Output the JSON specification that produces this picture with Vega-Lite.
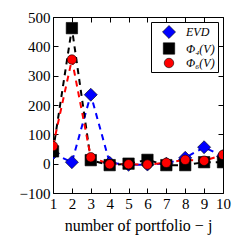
{
  "$schema": "https://vega.github.io/schema/vega-lite/v6.json",
  "width": 170,
  "height": 176,
  "autosize": {"type": "none"},
  "padding": {"left": 53, "top": 17, "right": 19, "bottom": 54},
  "background": "white",
  "config": {
    "view": {"stroke": "black", "strokeWidth": 1},
    "font": "Liberation Serif",
    "axis": {
      "labelFont": "Liberation Serif",
      "titleFont": "Liberation Serif",
      "labelFontSize": 15,
      "titleFontSize": 16,
      "titleFontWeight": "normal",
      "labelColor": "black",
      "titleColor": "black",
      "grid": false,
      "domain": false,
      "tickColor": "black",
      "tickSize": -5,
      "tickWidth": 1
    }
  },
  "data": {
    "values": [
      {"j": 1, "s": "EVD", "v": 35},
      {"j": 2, "s": "EVD", "v": 5},
      {"j": 3, "s": "EVD", "v": 235},
      {"j": 4, "s": "EVD", "v": 3},
      {"j": 5, "s": "EVD", "v": -4},
      {"j": 6, "s": "EVD", "v": -3},
      {"j": 7, "s": "EVD", "v": 0},
      {"j": 8, "s": "EVD", "v": 20},
      {"j": 9, "s": "EVD", "v": 56},
      {"j": 10, "s": "EVD", "v": 25},
      {"j": 1, "s": "Φ₄(V)", "v": 42},
      {"j": 2, "s": "Φ₄(V)", "v": 462},
      {"j": 3, "s": "Φ₄(V)", "v": 12},
      {"j": 4, "s": "Φ₄(V)", "v": -5},
      {"j": 5, "s": "Φ₄(V)", "v": 0},
      {"j": 6, "s": "Φ₄(V)", "v": 13},
      {"j": 7, "s": "Φ₄(V)", "v": -5},
      {"j": 8, "s": "Φ₄(V)", "v": -5},
      {"j": 9, "s": "Φ₄(V)", "v": 5},
      {"j": 10, "s": "Φ₄(V)", "v": 5},
      {"j": 1, "s": "Φ₆(V)", "v": 60},
      {"j": 2, "s": "Φ₆(V)", "v": 355},
      {"j": 3, "s": "Φ₆(V)", "v": 22},
      {"j": 4, "s": "Φ₆(V)", "v": -2},
      {"j": 5, "s": "Φ₆(V)", "v": -2},
      {"j": 6, "s": "Φ₆(V)", "v": -3},
      {"j": 7, "s": "Φ₆(V)", "v": 3},
      {"j": 8, "s": "Φ₆(V)", "v": 13},
      {"j": 9, "s": "Φ₆(V)", "v": 10},
      {"j": 10, "s": "Φ₆(V)", "v": 30}
    ]
  },
  "layer": [
    {
      "encoding": {
        "x": {
          "field": "j",
          "type": "quantitative",
          "scale": {"domain": [1, 10], "nice": false, "zero": false},
          "axis": {"values": [1,2,3,4,5,6,7,8,9,10], "title": "number of portfolio − j", "labelPadding": 8, "titlePadding": 6, "labelFlush": false}
        },
        "y": {
          "field": "v",
          "type": "quantitative",
          "scale": {"domain": [-100, 500], "nice": false},
          "axis": {"values": [-100, 0, 100, 200, 300, 400, 500], "title": null, "labelPadding": 8, "labelFlush": false}
        }
      },
      "layer": [
        {
          "transform": [{"filter": "datum.s === 'EVD'"}],
          "mark": {"type": "line", "strokeDash": [6, 5], "strokeWidth": 2, "clip": true, "stroke": "#0000ff"}
        },
        {
          "transform": [{"filter": "datum.s === 'Φ₄(V)'"}],
          "mark": {"type": "line", "strokeDash": [6, 5], "strokeWidth": 2, "clip": true, "stroke": "#000000"}
        },
        {
          "transform": [{"filter": "datum.s === 'Φ₆(V)'"}],
          "mark": {"type": "line", "strokeDash": [6, 5], "strokeWidth": 2, "clip": true, "stroke": "#ff0000"}
        },
        {
          "mark": {"type": "point", "filled": true, "opacity": 1, "stroke": "black", "strokeWidth": 0.6, "clip": true},
          "encoding": {
            "fill": {"field": "s", "type": "nominal", "scale": {"domain": ["EVD", "Φ₄(V)", "Φ₆(V)"], "range": ["#0000ff", "#000000", "#ff0000"]},
              "legend": {"title": null, "orient": "top-right", "offset": 5, "strokeColor": "black", "fillColor": "white", "padding": 3, "labelFont": "Liberation Serif", "labelFontSize": 12, "labelFontStyle": "italic", "labelColor": "black", "symbolStrokeColor": "black", "symbolStrokeWidth": 0.6, "symbolOpacity": 1, "symbolOffset": 8, "labelOffset": 10, "rowPadding": 1, "cornerRadius": 0}},
            "shape": {"field": "s", "type": "nominal", "scale": {"domain": ["EVD", "Φ₄(V)", "Φ₆(V)"], "range": ["diamond", "square", "circle"]}},
            "size": {"field": "s", "type": "nominal", "scale": {"domain": ["EVD", "Φ₄(V)", "Φ₆(V)"], "range": [170, 90, 95]}}
          }
        }
      ]
    },
    {
      "mark": {"type": "rule", "opacity": 0},
      "encoding": {
        "x": {"field": "j", "type": "quantitative", "axis": {"orient": "top", "values": [1,2,3,4,5,6,7,8,9,10], "labels": false, "title": null}},
        "y": {"field": "v", "type": "quantitative", "axis": {"orient": "right", "values": [-100, 0, 100, 200, 300, 400, 500], "labels": false, "title": null}}
      }
    }
  ],
  "resolve": {"axis": {"x": "independent", "y": "independent"}}
}
